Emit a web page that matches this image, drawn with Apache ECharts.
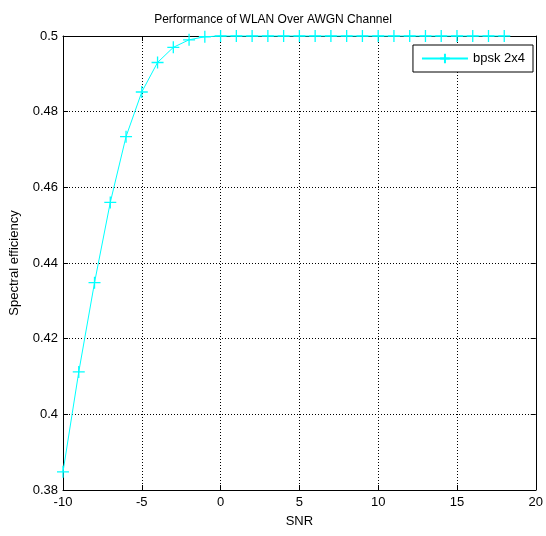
<!DOCTYPE html>
<html><head><meta charset="utf-8">
<script src="https://cdn.jsdelivr.net/npm/echarts@6/dist/echarts.min.js"></script>
<style>html,body{margin:0;padding:0;background:#fff}#c{width:546px;height:536px}</style>
</head><body><div id="c"></div>
<script>
const snr = [-10,-9,-8,-7,-6,-5,-4,-3,-2,-1,0,1,2,3,4,5,6,7,8,9,10,11,12,13,14,15,16,17,18];
const efficiency = [0.3848,0.4112,0.4348,0.4560,0.4734,0.4852,0.4930,0.4970,0.4990,0.4998,
  0.5,0.5,0.5,0.5,0.5,0.5,0.5,0.5,0.5,0.5,0.5,0.5,0.5,0.5,0.5,0.5,0.5,0.5,0.5];
const seriesName = 'bpsk 2x4';
const titleText = 'Performance of WLAN Over AWGN Channel';
const xTicks = [-10,-5,0,5,10,15,20];
const yTicks = [0.38,0.40,0.42,0.44,0.46,0.48,0.50];

const font = 'Liberation Sans, Arial, sans-serif';
const plus = 'path://M0,-6L0,6M-6,0L6,0';
const chart = echarts.init(document.getElementById('c'));
const gridLine = {show:true, lineStyle:{color:'#000', type:[1,2], width:1}};
chart.setOption({
  backgroundColor:'#fff',
  animation:false,
  title:{text:titleText, left:'center', top:9, textStyle:{fontFamily:font, fontSize:12, fontWeight:'normal', color:'#000'}},
  grid:{left:63, right:9, top:36, bottom:46},
  legend:{right:13, top:45, orient:'vertical', backgroundColor:'#fff', borderColor:'#000', borderWidth:1,
    padding:[7,8,7,8], itemWidth:46, itemHeight:12, itemGap:5,
    textStyle:{fontFamily:font, fontSize:13, color:'#000'},
    data:[{name:seriesName}]},
  xAxis:[{type:'value', min:-10, max:20, interval:5,
    name:'SNR', nameLocation:'middle', nameGap:25, nameTextStyle:{fontFamily:font, fontSize:13, color:'#000'},
    axisLine:{onZero:false, lineStyle:{color:'#000'}},
    axisTick:{inside:true, length:5, lineStyle:{color:'#000'}},
    axisLabel:{fontFamily:font, fontSize:13, color:'#000', margin:6,
      formatter:v=> xTicks.includes(v)? String(v):''},
    splitLine:gridLine},
   {type:'value', position:'top', min:-10, max:20, interval:5,
    axisLine:{onZero:false, lineStyle:{color:'#000'}},
    axisTick:{inside:true, length:5, lineStyle:{color:'#000'}},
    axisLabel:{show:false}, splitLine:{show:false}}],
  yAxis:[{type:'value', min:0.38, max:0.5, interval:0.02,
    name:'Spectral efficiency', nameLocation:'middle', nameGap:42, nameTextStyle:{fontFamily:font, fontSize:13, color:'#000'},
    axisLine:{show:true, onZero:false, lineStyle:{color:'#000'}},
    axisTick:{show:true, inside:true, length:5, lineStyle:{color:'#000'}},
    axisLabel:{fontFamily:font, fontSize:13, color:'#000', margin:5,
      formatter:v=>{const r=Math.round(v*100)/100; return yTicks.some(t=>Math.abs(t-r)<1e-9)? String(r):'';}},
    splitLine:gridLine},
   {type:'value', position:'right', min:0.38, max:0.5, interval:0.02,
    axisLine:{show:true, onZero:false, lineStyle:{color:'#000'}},
    axisTick:{show:true, inside:true, length:5, lineStyle:{color:'#000'}},
    axisLabel:{show:false}, splitLine:{show:false}}],
  series:[{name:seriesName, type:'line', data:snr.map((x,i)=>[x,efficiency[i]]),
    symbol:plus, symbolSize:[12,12], showAllSymbol:true,
    lineStyle:{color:'#00ffff', width:1},
    itemStyle:{color:'#00ffff', borderColor:'#00ffff', borderWidth:1.3},
    clip:false}]
});
</script></body></html>
